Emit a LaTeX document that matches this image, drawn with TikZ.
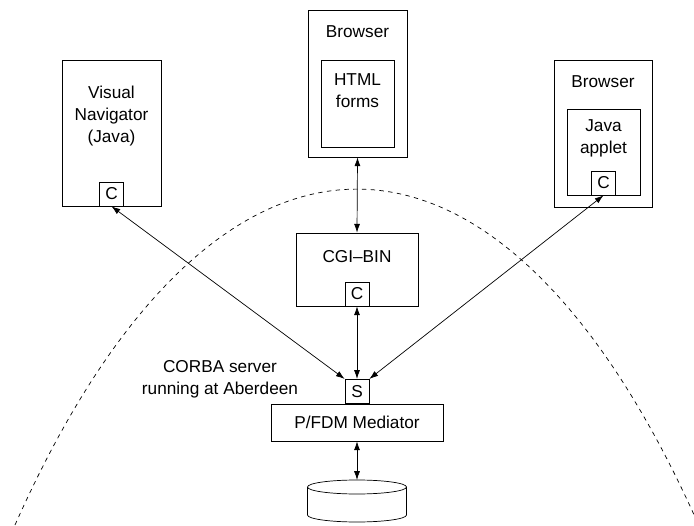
\documentclass[tikz,border=0pt]{standalone}
\usepackage{fontspec}
\setmainfont{Liberation Sans}
\usetikzlibrary{arrows.meta}
\tikzset{
  box/.style={draw, inner sep=0pt},
  cbox/.style={draw, inner sep=0pt, minimum size=0.48cm},
  link/.style={{Latex[length=5pt,width=3.4pt]}-{Latex[length=5pt,width=3.4pt]}}
}
\begin{document}
\begin{tikzpicture}[font=\fontsize{9.8}{12.5}\selectfont]
            \useasboundingbox (0,0) rectangle (13.88,10.5);
            % left client
            \node [box, minimum width=1.98cm, minimum height=2.92cm] (nav) at (2.23,7.84) {};
            \node [align=center] (navtxt) at (2.23,8.18) {Visual\\Navigator\\(Java)};
            \node [cbox, anchor=south] (navc) at (nav.south) {C};
            % browser with html forms
            \node [box, minimum width=1.98cm, minimum height=2.94cm] (web) at (7.15,8.83) {};
            \node (webtxt) at (7.15,9.86) {Browser};
            \node [box, minimum width=1.46cm, minimum height=1.74cm] (html) at (7.15,8.43) {};
            \node [align=center] (htmltxt) at (7.15,8.68) {HTML\\forms};
            % browser with applet
            \node [box, minimum width=1.96cm, minimum height=2.94cm] (br) at (12.06,7.83) {};
            \node (brtxt) at (12.06,8.86) {Browser};
            \node [box, minimum width=1.46cm, minimum height=1.72cm] (applet) at (12.07,7.46) {};
            \node [align=center] (applettxt) at (12.07,7.73) {Java\\applet};
            \node [cbox, anchor=south] (appc) at (applet.south) {C};
            % cgi
            \node [box, minimum width=2.44cm, minimum height=1.46cm] (cgi) at (7.14,5.11) {};
            \node (cgitxt) at (7.14,5.36) {CGI--BIN};
            \node [cbox, anchor=south] (cgic) at (cgi.south) {C};
            % server side
            \node [box, minimum width=3.44cm, minimum height=0.74cm] (med) at (7.14,2.05) {P/FDM Mediator};
            \node [cbox, anchor=south] (s) at (med.north) {S};
            \node [align=center] (corba) at (4.40,2.92) {CORBA server\\running at Aberdeen};
            \coordinate (db) at (7.14,0.90);
            \draw (6.15,0.76) -- (6.15,0.20) arc [start angle=180, end angle=360, x radius=0.99, y radius=0.14] -- (8.13,0.76);
            \draw (7.14,0.76) ellipse [x radius=0.99, y radius=0.14];
            % links
            \draw [link] (navc.south) -- (s.north west);
            \draw [link] (appc.south) -- (s.north east);
            \draw [link] (cgic.south) -- (s.north);
            \draw [link] (web.south) -- (cgi.north);
            \draw [link] (med.south) -- (db);
            % boundary of the server site
            \draw [dash pattern=on 2.5pt off 2.5pt] (0.30,0) arc [start angle=129.1, end angle=50.9, x radius=10.84, y radius=30];
        \end{tikzpicture}
\end{document}
